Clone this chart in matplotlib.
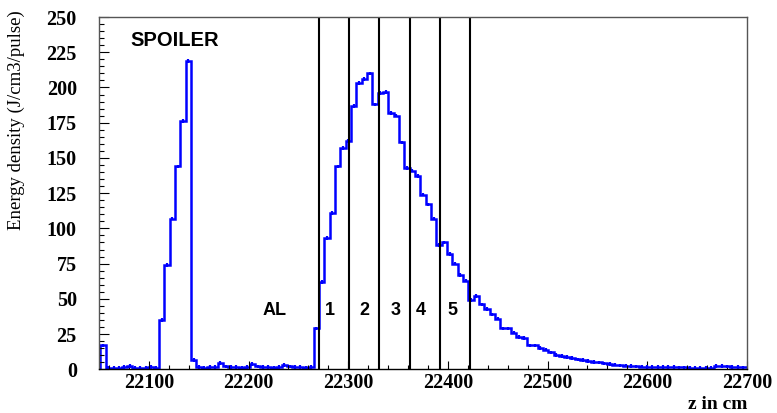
import numpy as np
import matplotlib
matplotlib.use("Agg")
import matplotlib.pyplot as plt
from matplotlib.ticker import MultipleLocator

# histogram binning
z_start = 22051.4
bin_width = 5.35

energy = [
    17,
    1.0, 1.0, 1.2, 1.5, 2.2, 1.0, 1.0, 1.0, 1.5, 1.0,
    35, 74, 107, 144, 176, 219,
    6.5,
    1.5, 1.0, 1.5, 1.5, 4.5, 2.0, 1.5, 1.5, 1.0, 1.5, 3.8,
    2.0, 1.5, 1.5, 1.0, 1.5, 3.0, 2.0, 1.5, 1.5, 1.0, 1.5,
    29, 62, 93, 111, 144, 157, 162, 187, 203, 206, 210,
    188, 196, 197, 182, 180, 161, 143, 141, 137, 124, 117,
    107, 88, 90, 82, 75, 67, 63, 49, 52, 46, 43, 39, 36,
    29, 29, 26, 23, 22, 17, 17, 15, 14, 12, 10, 9.5, 8.5,
    7.8, 7.0, 6.6, 5.9, 5.2, 4.9, 4.2, 3.8, 3.3, 2.8, 2.6,
    2.4, 2.1, 1.9, 1.8, 1.6, 1.6, 1.5, 1.4, 1.4, 1.3, 1.3,
    1.2, 1.2, 1.2, 1.1, 1.1, 2.2, 2.3, 2.0, 1.5, 1.5, 1.3, 1.3,
]

# region boundaries (vertical lines)
boundaries = [22270.5, 22301, 22331, 22362, 22392, 22422.5]
region_names = ["AL", "1", "2", "3", "4", "5"]
region_x = [22226, 22282, 22316, 22348, 22373, 22405]

fig = plt.figure(figsize=(7.77, 4.13), dpi=100)
ax = fig.add_axes([0.1274, 0.1058, 0.834, 0.853])

values = np.array(energy)
edges = z_start + bin_width * np.arange(len(values) + 1)
centers = 0.5 * (edges[:-1] + edges[1:])

ax.stairs(values, edges, baseline=0, color="#0000ff", lw=1.8)
ax.errorbar(centers, values, yerr=1.3, fmt="none", ecolor="#0000ff", elinewidth=1.6)

for b in boundaries:
    ax.axvline(b, color="black", lw=1.5)

for name, x in zip(region_names, region_x):
    ax.text(x, 42, name, ha="center", va="center", fontsize=13,
            fontweight="bold", family="Liberation Sans")

ax.text(22081, 233.5, "SPOILER", ha="left", va="center", fontsize=14.5,
        fontweight="bold", family="Liberation Sans")

ax.set_xlim(22050, 22700)
ax.set_ylim(0, 250)

ax.xaxis.set_major_locator(MultipleLocator(100))
ax.xaxis.set_minor_locator(MultipleLocator(20))
ax.yaxis.set_major_locator(MultipleLocator(25))
ax.yaxis.set_minor_locator(MultipleLocator(5))

ax.tick_params(axis="both", which="both", direction="in", top=False, right=False)
ax.tick_params(axis="y", which="major", length=7, pad=16, width=0.8)
ax.tick_params(axis="y", which="minor", length=3.5, width=0.8)
ax.tick_params(axis="x", which="major", length=6, pad=3, width=0.8)
ax.tick_params(axis="x", which="minor", length=3, width=0.8)

for lab in ax.get_xticklabels() + ax.get_yticklabels():
    lab.set_family("Liberation Serif")
    lab.set_fontweight("bold")
    lab.set_fontsize(14.5)

for side in ["top", "right", "left"]:
    ax.spines[side].set_color("#555555")
ax.spines["bottom"].set_color("black")
for side in ax.spines:
    ax.spines[side].set_linewidth(1.0)

ax.text(-0.127, 1.02, "Energy density (J/cm3/pulse)", transform=ax.transAxes,
        rotation=90, ha="center", va="top", fontsize=13.5, family="Liberation Serif")

ax.text(1.0, -0.075, "z in cm", transform=ax.transAxes, ha="right", va="top",
        fontsize=14, fontweight="bold", family="Liberation Serif")

fig.savefig("out.png", dpi=100)
